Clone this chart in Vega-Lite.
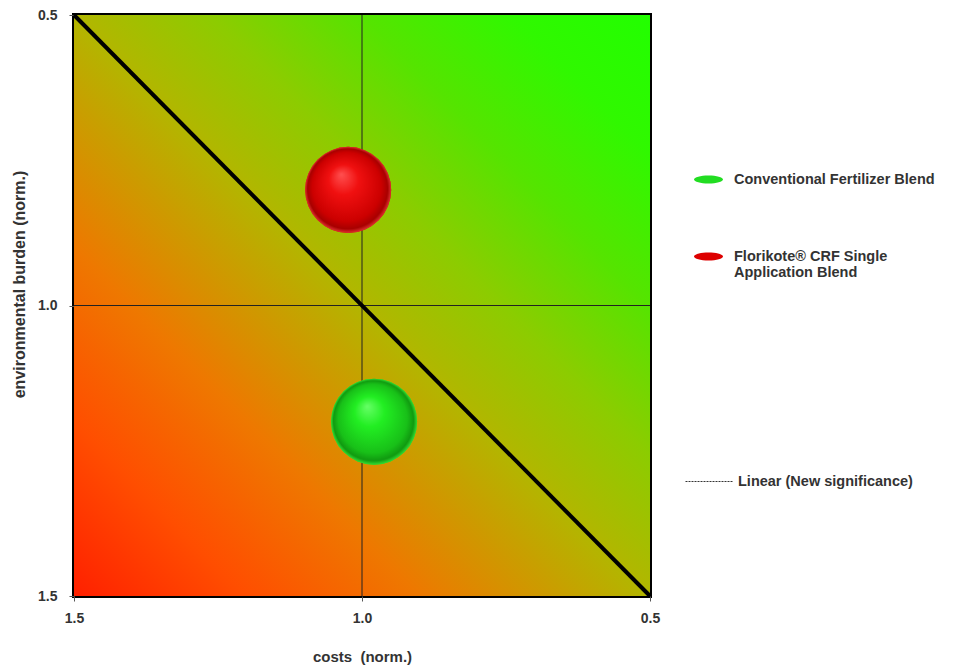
{
  "$schema": "https://vega.github.io/schema/vega-lite/v6.json",
  "autosize": {"type": "none"},
  "width": 576,
  "height": 581,
  "padding": {"left": 74, "top": 15, "right": 319, "bottom": 71},
  "background": "white",
  "config": {
    "view": {"stroke": "black", "strokeWidth": 4},
    "font": "Liberation Sans",
    "axis": {"grid": false, "domain": false, "labelFlush": false, "labelFont": "Liberation Sans", "labelFontWeight": "bold", "labelFontSize": 14, "labelColor": "#333333", "titleFont": "Liberation Sans", "titleFontWeight": "bold", "titleFontSize": 15, "titleColor": "#333333", "tickColor": "#555555", "tickSize": 5},
    "legend": {"labelFont": "Liberation Sans", "labelFontWeight": "bold", "labelFontSize": 14.5, "labelColor": "#333333", "labelLimit": 400, "title": null}
  },
  "datasets": {
    "bg": [{"x1": 1.5, "x2": 0.5, "y1": 0.5, "y2": 1.5}],
    "cross": [{"v": 1.0}],
    "diag": [
      {"cost": 1.5, "burden": 0.5, "series": "Linear (New significance)"},
      {"cost": 0.5, "burden": 1.5, "series": "Linear (New significance)"}
    ],
    "pts": [
      {"cost": 0.979, "burden": 1.2, "product": "Conventional Fertilizer Blend"},
      {"cost": 1.024, "burden": 0.801, "product": "Florikote® CRF Single Application Blend"}
    ]
  },
  "layer": [
    {
      "data": {"name": "bg"},
      "mark": {"type": "rect", "fill": {"gradient": "linear", "x1": 0, "y1": 1, "x2": 1, "y2": 0, "stops": [
        {"offset": 0, "color": "#ff2000"},
        {"offset": 0.15, "color": "#ff4e00"},
        {"offset": 0.3, "color": "#ee7800"},
        {"offset": 0.5, "color": "#b2b600"},
        {"offset": 0.62, "color": "#8ccc00"},
        {"offset": 0.75, "color": "#55e400"},
        {"offset": 0.88, "color": "#30f800"},
        {"offset": 1, "color": "#22ff00"}
      ]}},
      "encoding": {
        "x": {"field": "x1", "type": "quantitative", "scale": {"domain": [1.5, 0.5], "nice": false, "zero": false}, "axis": {"values": [1.5, 1.0, 0.5], "format": ".1f", "title": "costs\u00a0 (norm.)", "titlePadding": 24, "labelPadding": 10}},
        "x2": {"field": "x2"},
        "y": {"field": "y1", "type": "quantitative", "scale": {"domain": [1.5, 0.5], "nice": false, "zero": false}, "axis": {"values": [0.5, 1.0, 1.5], "format": ".1f", "title": "environmental burden (norm.)", "titleFontSize": 16, "titleY": 269, "titlePadding": 10, "labelPadding": 12}},
        "y2": {"field": "y2"}
      }
    },
    {
      "data": {"name": "cross"},
      "mark": {"type": "rule", "color": "#222222", "strokeWidth": 1},
      "encoding": {"x": {"field": "v", "type": "quantitative"}}
    },
    {
      "data": {"name": "cross"},
      "mark": {"type": "rule", "color": "#222222", "strokeWidth": 1},
      "encoding": {"y": {"field": "v", "type": "quantitative"}}
    },
    {
      "data": {"name": "diag"},
      "mark": {"type": "line", "color": "#333333", "strokeWidth": 1},
      "encoding": {
        "x": {"field": "cost", "type": "quantitative"},
        "y": {"field": "burden", "type": "quantitative"},
        "strokeDash": {"field": "series", "type": "nominal", "scale": {"range": [[2, 1]]},
          "legend": {"orient": "none", "legendX": 611, "legendY": 442, "symbolType": "stroke", "symbolSize": 2304, "symbolStrokeWidth": 1, "symbolStrokeColor": "#333333"}}
      }
    },
    {
      "data": {"name": "diag"},
      "mark": {"type": "line", "color": "black", "strokeWidth": 4},
      "encoding": {
        "x": {"field": "cost", "type": "quantitative"},
        "y": {"field": "burden", "type": "quantitative"}
      }
    },
    {
      "data": {"name": "pts"},
      "mark": {"type": "point", "filled": true, "opacity": 1, "size": 7400},
      "encoding": {
        "x": {"field": "cost", "type": "quantitative"},
        "y": {"field": "burden", "type": "quantitative"},
        "color": {"field": "product", "type": "nominal",
          "scale": {"domain": ["Conventional Fertilizer Blend", "Florikote® CRF Single Application Blend"], "range": ["#22dd22", "#dd0000"]},
          "legend": {"orient": "none", "legendX": 619, "legendY": 149, "rowPadding": 55, "symbolType": "M-1,0 A1,0.28 0 1,1 1,0 A1,0.28 0 1,1 -1,0 Z", "symbolSize": 841, "symbolOpacity": 1, "labelOffset": 10,
            "labelExpr": "datum.label == 'Florikote® CRF Single Application Blend' ? ['Florikote® CRF Single', 'Application Blend'] : datum.label"}
        }
      }
    },
    {
      "data": {"name": "pts"},
      "transform": [{"filter": "datum.product == 'Florikote® CRF Single Application Blend'"}],
      "mark": {"type": "point", "filled": true, "opacity": 1, "size": 7400, "fill": {"gradient": "radial", "x1": 0.42, "y1": 0.32, "r1": 0, "x2": 0.5, "y2": 0.5, "r2": 0.5, "stops": [
        {"offset": 0, "color": "#ff5050"},
        {"offset": 0.35, "color": "#f01010"},
        {"offset": 0.8, "color": "#cc0000"},
        {"offset": 0.93, "color": "#a80000"},
        {"offset": 1, "color": "#dd3030"}
      ]}},
      "encoding": {
        "x": {"field": "cost", "type": "quantitative"},
        "y": {"field": "burden", "type": "quantitative"}
      }
    },
    {
      "data": {"name": "pts"},
      "transform": [{"filter": "datum.product == 'Conventional Fertilizer Blend'"}],
      "mark": {"type": "point", "filled": true, "opacity": 1, "size": 7400, "fill": {"gradient": "radial", "x1": 0.42, "y1": 0.32, "r1": 0, "x2": 0.5, "y2": 0.5, "r2": 0.5, "stops": [
        {"offset": 0, "color": "#66ff66"},
        {"offset": 0.35, "color": "#22ee22"},
        {"offset": 0.8, "color": "#18c018"},
        {"offset": 0.93, "color": "#109a10"},
        {"offset": 1, "color": "#33dd33"}
      ]}},
      "encoding": {
        "x": {"field": "cost", "type": "quantitative"},
        "y": {"field": "burden", "type": "quantitative"}
      }
    }
  ]
}
